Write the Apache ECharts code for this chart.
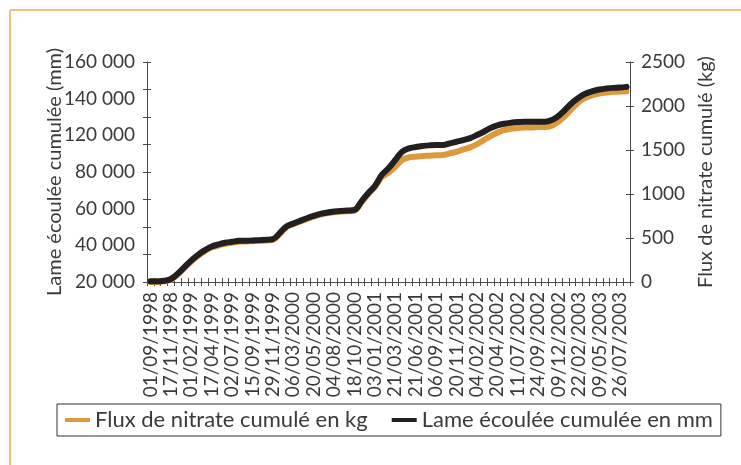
<!DOCTYPE html>
<html>
<head>
<meta charset="utf-8">
<script src="https://cdn.jsdelivr.net/npm/echarts@6/dist/echarts.min.js"></script>
<style>
html,body{margin:0;padding:0;background:#fff;}
#c{width:741px;height:465px;}
</style>
</head>
<body>
<div id="c"></div>
<script>
// X-axis date labels (one every 3 categories)
const dateLabels = ['01/09/1998','17/11/1998','01/02/1999','17/04/1999','02/07/1999','15/09/1999','29/11/1999','06/03/2000','20/05/2000','04/08/2000','18/10/2000','03/01/2001','21/03/2001','21/06/2001','06/09/2001','20/11/2001','04/02/2002','20/04/2002','11/07/2002','24/09/2002','09/12/2002','22/02/2003','09/05/2003','26/07/2003'];
const categoryCount = 71;
// Left axis tick labels (as printed in the original)
const leftLabels = ['20 000','40 000','60 000','80 000','120 000','140 000','160 000'];
// Lame écoulée cumulée (mm) – left axis units
const lame = [460,460,940,2150,6020,10860,15690,19800,23190,25850,27300,28510,29230,29960,29960,30200,30440,30680,31170,35520,40360,42530,44470,46400,48100,49540,50510,51240,51720,51960,52450,58490,64540,69860,77830,82670,88720,94760,97180,98150,98870,99360,99600,99600,100810,102020,103230,104680,106850,109270,111930,113860,115070,115800,116280,116520,116520,116520,116520,117730,120870,125470,130300,134170,137070,138760,139970,140700,141180,141420,141910];
// Flux de nitrate cumulé (kg) – right axis units
const flux = [0,0,7,26,83,158,234,298,351,392,415,434,445,457,461,464,468,472,479,547,623,657,687,718,744,767,782,793,801,804,812,903,997,1080,1190,1242,1310,1386,1416,1424,1431,1435,1439,1443,1462,1480,1507,1530,1567,1613,1658,1696,1726,1741,1749,1756,1756,1760,1760,1775,1824,1892,1972,2047,2093,2123,2142,2153,2161,2164,2168];

const categories = [];
for (let i = 0; i < categoryCount; i++) categories.push(i % 3 === 0 ? dateLabels[i / 3] : '');

const FONT = 'Lato';
const TXT = '#3a3a3a';
const AX = '#4a4a4a';

const chart = echarts.init(document.getElementById('c'), null, {renderer: 'canvas'});
chart.setOption({
  animation: false,
  backgroundColor: '#fff',
  textStyle: {fontFamily: FONT, color: TXT},
  grid: {left: 147, right: 111, top: 62, bottom: 183},
  graphic: [
    {type: 'line', shape: {x1: 10, y1: 10, x2: 741, y2: 10}, style: {stroke: '#f2be84', lineWidth: 2}},
    {type: 'line', shape: {x1: 10, y1: 10, x2: 10, y2: 465}, style: {stroke: '#f2be84', lineWidth: 2}}
  ],
  legend: {
    left: 57, top: 404,
    data: ['Flux de nitrate cumulé en kg', 'Lame écoulée cumulée en mm'],
    icon: 'rect', itemWidth: 25, itemHeight: 4, itemGap: 24,
    borderColor: '#333', borderWidth: 1, borderRadius: 0,
    padding: [5, 8, 5, 8],
    textStyle: {fontFamily: FONT, fontSize: 22, color: TXT}
  },
  xAxis: [
    {
      type: 'category', data: categories, boundaryGap: true, position: 'bottom',
      axisLine: {lineStyle: {color: AX, width: 1}},
      axisTick: {show: true, interval: 0, length: 4, lineStyle: {color: AX}},
      axisLabel: {interval: 0, rotate: 90, margin: 10, fontSize: 19, fontFamily: FONT, color: TXT}
    },
    {
      type: 'category', data: categories, boundaryGap: true, position: 'bottom',
      axisLine: {show: false},
      axisTick: {show: true, inside: true, interval: 0, length: 4, lineStyle: {color: AX}},
      axisLabel: {show: false}
    }
  ],
  yAxis: [
    {
      type: 'value', position: 'left', min: 0, max: 160000, interval: 20000,
      name: 'Lame écoulée cumulée (mm)', nameLocation: 'middle', nameGap: 82,
      nameTextStyle: {fontSize: 20, fontFamily: FONT, color: TXT},
      axisLine: {show: true, lineStyle: {color: AX}},
      axisTick: {show: true, length: 4, lineStyle: {color: AX}},
      axisLabel: {show: false},
      splitLine: {show: false}
    },
    {
      type: 'value', position: 'right', min: 0, max: 2500, interval: 500,
      name: 'Flux de nitrate cumulé (kg)', nameLocation: 'middle', nameGap: 66,
      nameTextStyle: {fontSize: 20, fontFamily: FONT, color: TXT},
      axisLine: {show: true, lineStyle: {color: AX}},
      axisTick: {show: true, length: 4, lineStyle: {color: AX}},
      axisLabel: {margin: 11, fontSize: 19, fontFamily: FONT, color: TXT, formatter: v => String(v)},
      splitLine: {show: false}
    },
    {
      type: 'value', position: 'left', min: 0, max: 6, interval: 1,
      axisLine: {show: false}, axisTick: {show: false}, splitLine: {show: false},
      axisLabel: {margin: 12, fontSize: 19, fontFamily: FONT, color: TXT,
        formatter: v => leftLabels[Math.round(v)] || ''}
    },
    {
      type: 'value', position: 'left', min: 0, max: 160000, interval: 20000,
      axisLine: {show: false}, axisLabel: {show: false}, splitLine: {show: false},
      axisTick: {show: true, inside: true, length: 4, lineStyle: {color: AX}}
    },
    {
      type: 'value', position: 'right', min: 0, max: 2500, interval: 500,
      axisLine: {show: false}, axisLabel: {show: false}, splitLine: {show: false},
      axisTick: {show: true, inside: true, length: 4, lineStyle: {color: AX}}
    }
  ],
  series: [
    {
      name: 'Flux de nitrate cumulé en kg', type: 'line', xAxisIndex: 0, yAxisIndex: 1,
      data: flux, smooth: 0.4, symbol: 'none',
      lineStyle: {color: '#dc9a3c', width: 6, cap: 'round', join: 'round'},
      itemStyle: {color: '#dc9a3c'}
    },
    {
      name: 'Lame écoulée cumulée en mm', type: 'line', xAxisIndex: 0, yAxisIndex: 0,
      data: lame, smooth: 0.4, symbol: 'none',
      lineStyle: {color: '#231f20', width: 6, cap: 'round', join: 'round'},
      itemStyle: {color: '#231f20'}
    }
  ]
});
</script>
</body>
</html>
